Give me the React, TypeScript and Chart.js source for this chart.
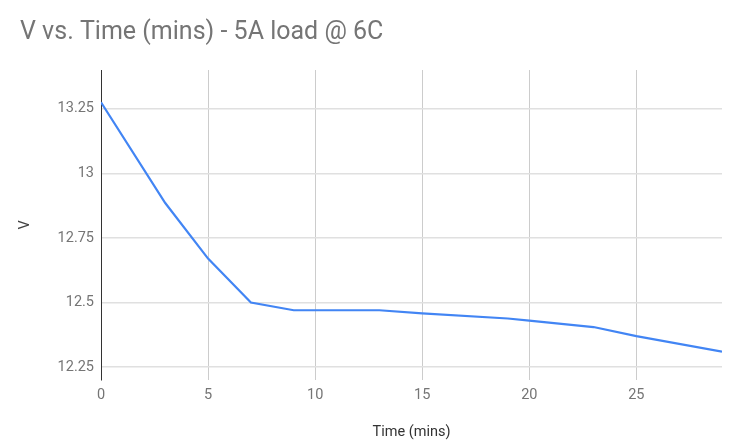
import React, { useEffect, useRef } from "react";
import { Chart, registerables } from "chart.js";

Chart.register(...registerables);

const timeMins = [0, 3, 5, 7, 9, 13, 15, 19, 20, 23, 25, 29];
const volts = [13.275, 12.885, 12.67, 12.5, 12.47, 12.47, 12.458, 12.438, 12.43, 12.405, 12.37, 12.31];
const xTicks = [0, 5, 10, 15, 20, 25];
const yTicks = [12.25, 12.5, 12.75, 13, 13.25];

const titleText = "V vs. Time (mins) - 5A load @ 6C";
const xTitle = "Time (mins)";
const yTitle = "V";

export default function App() {
  const ref = useRef<HTMLCanvasElement | null>(null);

  useEffect(() => {
    if (!ref.current) return;
    const chart = new Chart(ref.current, {
      type: "line",
      data: {
        datasets: [
          {
            label: yTitle,
            data: timeMins.map((t, i) => ({ x: t, y: volts[i] })),
            borderColor: "#4285F4",
            backgroundColor: "#4285F4",
            borderWidth: 2.2,
            pointRadius: 0,
            tension: 0,
            fill: false,
          },
        ],
      },
      options: {
        responsive: false,
        animation: false,
        devicePixelRatio: 1,
        layout: { padding: { top: 0, right: 12, bottom: 0, left: 20 } },
        plugins: {
          legend: { display: false },
          tooltip: { enabled: false },
          title: {
            display: true,
            text: titleText,
            align: "start",
            color: "#757575",
            font: { family: "Roboto", size: 25, weight: "normal" },
            padding: { top: 18.2, bottom: 21.8 },
          },
        },
        scales: {
          x: {
            type: "linear",
            min: 0,
            max: 29,
            afterBuildTicks: (scale: any) => {
              scale.ticks = xTicks.map((v) => ({ value: v }));
            },
            afterFit: (scale: any) => {
              scale.height = 68;
            },
            grid: { color: "#cccccc", lineWidth: 1, drawTicks: false },
            border: { display: false },
            ticks: {
              color: "#757575",
              font: { family: "Roboto", size: 14.5 },
              padding: 7,
              maxRotation: 0,
            },
            title: {
              display: true,
              text: xTitle,
              color: "#333333",
              font: { family: "Roboto", size: 14.5 },
              padding: { top: 0, bottom: 7 },
            },
          },
          y: {
            type: "linear",
            min: 12.2,
            max: 13.4,
            afterBuildTicks: (scale: any) => {
              scale.ticks = yTicks.map((v) => ({ value: v }));
            },
            afterFit: (scale: any) => {
              scale.width = 81;
            },
            grid: { color: "#e0e0e0", lineWidth: 1.5, drawTicks: false },
            border: { display: true, color: "#333333", width: 1 },
            ticks: {
              color: "#757575",
              font: { family: "Roboto", size: 14.5 },
              padding: 7,
              callback: (v: any) => String(v),
            },
            title: {
              display: true,
              text: yTitle,
              color: "#444444",
              font: { family: "Roboto", size: 14.5 },
              padding: { top: -3, bottom: 0 },
            },
          },
        },
      },
    });
    return () => chart.destroy();
  }, []);

  return (
    <div style={{ position: "absolute", left: 0, top: 0, width: 734, height: 448, background: "#fff" }}>
      <canvas ref={ref} width={734} height={448} style={{ display: "block" }} />
    </div>
  );
}
